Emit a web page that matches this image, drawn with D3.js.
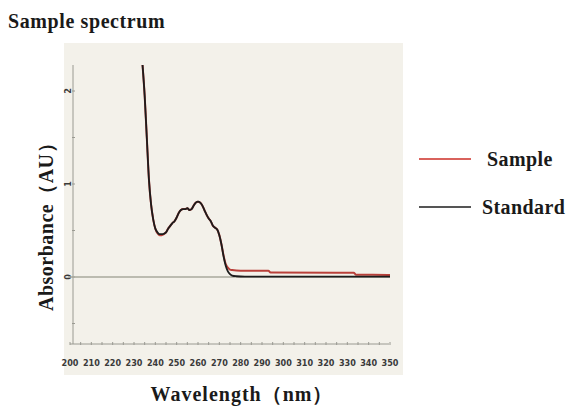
<!DOCTYPE html>
<html>
<head>
  <meta charset="utf-8">
  <script src="https://cdn.jsdelivr.net/npm/d3@7"></script>
</head>
<style>
body { margin: 0; background: #fff; }
.lbl { font-family: "Liberation Serif", serif; font-weight: bold; fill: #1a1a1a; }
.tick-lbl { font-family: "Liberation Sans Narrow", "DejaVu Sans Condensed", sans-serif; font-size: 9px; font-weight: bold; fill: #3a3a3a; }
</style>
<body>
<svg width="566" height="407"></svg>
<script>

// wavelength (nm) and absorbance (AU)
const wavelength = [234, 235, 236, 237, 238, 239, 240, 241, 242, 243, 244, 245, 246, 247, 248, 249, 250,
                    251, 252, 253, 254, 255, 256, 257, 258, 259, 260, 261, 262, 263, 264, 265, 266, 267,
                    268, 269, 270, 271, 272, 273, 274, 275, 276, 278, 282, 293, 294, 333, 334, 350];
const sample    = [2.28, 1.95, 1.5, 1.05, 0.78, 0.62, 0.52, 0.47, 0.45, 0.45, 0.46, 0.48, 0.52, 0.55, 0.58, 0.6, 0.64,
                   0.69, 0.72, 0.73, 0.73, 0.74, 0.72, 0.73, 0.77, 0.8, 0.81, 0.8, 0.77, 0.72, 0.67, 0.63, 0.6, 0.55,
                   0.53, 0.51, 0.45, 0.35, 0.23, 0.14, 0.1, 0.08, 0.075, 0.07, 0.068, 0.068, 0.048, 0.046, 0.025, 0.022];
const standard  = [2.28, 1.95, 1.5, 1.05, 0.78, 0.62, 0.52, 0.48, 0.46, 0.46, 0.465, 0.48, 0.52, 0.55, 0.58, 0.6, 0.64,
                   0.69, 0.72, 0.73, 0.73, 0.74, 0.72, 0.73, 0.77, 0.8, 0.81, 0.8, 0.77, 0.72, 0.67, 0.63, 0.6, 0.55,
                   0.53, 0.51, 0.45, 0.35, 0.22, 0.12, 0.06, 0.03, 0.015, 0.008, 0.004, 0.003, 0.003, 0.003, 0.003, 0.003];

const xTicks = d3.range(200, 351, 10);
const yTicks = [0, 1, 2];

var svg = d3.select("svg");

var x = d3.scaleLinear().domain([200, 350]).range([70, 390]);
var y = d3.scaleLinear().domain([0, 1]).range([277, 184]);

// beige panel (the photographed screen)
svg.append("rect")
   .attr("x", 64).attr("y", 43)
   .attr("width", 339).attr("height", 332)
   .attr("fill", "#f3f1ea");

// axes
var axisCol = "#9a9a92";
svg.append("line")
   .attr("x1", 73).attr("x2", 73)
   .attr("y1", 65).attr("y2", 344)
   .attr("stroke", axisCol).attr("stroke-width", 1);
svg.append("line")
   .attr("x1", 70).attr("x2", 389)
   .attr("y1", 344).attr("y2", 344)
   .attr("stroke", axisCol).attr("stroke-width", 1);

svg.append("g").selectAll("line")
   .data(d3.range(200, 351, 5))
   .enter().append("line")
   .attr("x1", d => x(d)).attr("x2", d => x(d))
   .attr("y1", 342).attr("y2", 345)
   .attr("stroke", axisCol);

svg.append("g").selectAll("line")
   .data(d3.range(-0.5, 2.01, 0.5))
   .enter().append("line")
   .attr("x1", 72).attr("x2", 75)
   .attr("y1", d => y(d)).attr("y2", d => y(d))
   .attr("stroke", axisCol);

svg.append("g").selectAll("text")
   .data(xTicks)
   .enter().append("text")
   .attr("class", "tick-lbl")
   .attr("x", d => x(d)).attr("y", 366)
   .attr("text-anchor", "middle")
   .text(d => d);

svg.append("g").selectAll("text")
   .data(yTicks)
   .enter().append("text")
   .attr("class", "tick-lbl")
   .attr("transform", d => `translate(71,${y(d)}) rotate(-90)`)
   .attr("text-anchor", "middle")
   .text(d => d);

// zero line
svg.append("line")
   .attr("x1", 68).attr("x2", 390)
   .attr("y1", y(0)).attr("y2", y(0))
   .attr("stroke", "#a8a89c").attr("stroke-width", 1.5);

var line = d3.line()
             .x((d, i) => x(wavelength[i]))
             .y(d => y(d))
             .curve(d3.curveMonotoneX);

svg.append("path")
   .datum(sample)
   .attr("d", line)
   .attr("fill", "none")
   .attr("stroke", "#b9403a").attr("stroke-width", 2);

svg.append("path")
   .datum(standard)
   .attr("d", line)
   .attr("fill", "none")
   .attr("stroke", "#1c1c1c").attr("stroke-width", 1.8);

// legend
var legend = [["Sample", "#d9625c", 159, 487], ["Standard", "#555", 207, 482]];
var lg = svg.append("g").selectAll("g")
            .data(legend)
            .enter().append("g");
lg.append("line")
  .attr("x1", 419).attr("x2", 471)
  .attr("y1", d => d[2]).attr("y2", d => d[2])
  .attr("stroke", d => d[1]).attr("stroke-width", 2);
lg.append("text")
  .attr("class", "lbl")
  .attr("x", d => d[3])
  .attr("y", d => d[2] + 7)
  .attr("font-size", 20)
  .attr("letter-spacing", 0.4)
  .text(d => d[0]);

// titles
svg.append("text")
   .attr("class", "lbl")
   .attr("x", 8).attr("y", 28)
   .attr("font-size", 20)
   .attr("letter-spacing", 0.6)
   .text("Sample spectrum");

svg.append("text")
   .attr("class", "lbl")
   .attr("x", 242).attr("y", 401)
   .attr("text-anchor", "middle")
   .attr("font-size", 20)
   .attr("letter-spacing", 1)
   .text("Wavelength（nm）");

svg.append("text")
   .attr("class", "lbl")
   .attr("transform", "translate(53,222) rotate(-90)")
   .attr("text-anchor", "middle")
   .attr("font-size", 20)
   .attr("letter-spacing", 0.5)
   .text("Absorbance（AU）");
</script>
</body>
</html>
